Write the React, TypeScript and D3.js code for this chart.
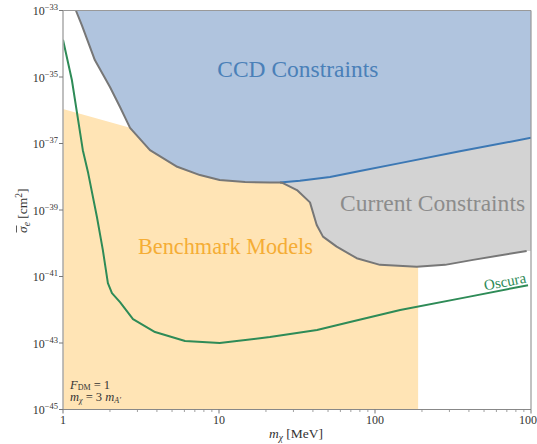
import React from 'react';
import * as d3 from 'd3';

const W = 537;
const H = 444;
const PL = 63, PR = 531, PT = 10.5, PB = 409.5;

// CCD constraint boundary (gray part, coincides with current constraints)
const ccdMass = [1.21, 1.32, 1.6, 2.0, 2.32, 2.69, 3.61, 5.4, 7.55, 10.1, 14.7, 21.2, 24.6];
const ccdLogSigma = [-33.0, -33.44, -34.49, -35.3, -35.9, -36.53, -37.2, -37.7, -37.95, -38.1, -38.16, -38.17, -38.17];
// CCD projection continuing (blue line)
const ccdProjMass = [24.6, 33.0, 51.5, 80.1, 144.6, 350, 1000];
const ccdProjLogSigma = [-38.17, -38.12, -38.01, -37.83, -37.59, -37.23, -36.83];
// Current constraints lower boundary
const curMass = [24.6, 25.7, 31.6, 38.3, 42.3, 46.4, 56.8, 76.3, 107.6, 185, 281, 425, 938];
const curLogSigma = [-38.17, -38.19, -38.4, -38.77, -39.45, -39.8, -40.1, -40.45, -40.65, -40.71, -40.65, -40.5, -40.23];
// Oscura projection
const oscMass = [1.0, 1.14, 1.34, 1.45, 1.65, 1.8, 1.94, 2.06, 2.32, 2.81, 3.89, 6.06, 10.1, 21.2, 42.5, 69.2, 145, 389, 957];
const oscLogSigma = [-33.88, -35.09, -37.2, -37.89, -39.21, -40.2, -41.2, -41.5, -41.77, -42.28, -42.67, -42.94, -43.0, -42.82, -42.61, -42.37, -42.01, -41.62, -41.26];
// Benchmark models region
const benchTopMass = [1.0, 2.69];
const benchTopLogSigma = [-35.96, -36.53];
const benchMaxMass = 189;

const xTickValues = [1, 10, 100, 1000];
const xTickLabels = ['1', '10', '100', '1000'];
const yTickExps = [-33, -35, -37, -39, -41, -43, -45];

const FONT = '"Liberation Serif", "DejaVu Serif", serif';

export default function App() {
  const x = d3.scaleLog().domain([1, 1000]).range([PL, PR]);
  const y = d3.scaleLog().domain([1e-45, 1e-33]).range([PB, PT]);
  const pt = (m: number, l: number): [number, number] => [x(m), y(Math.pow(10, l))];

  const line = d3.line<[number, number]>().x(d => d[0]).y(d => d[1]);

  const ccdPts = ccdMass.map((m, i) => pt(m, ccdLogSigma[i]));
  const projPts = ccdProjMass.map((m, i) => pt(m, ccdProjLogSigma[i]));
  const curPts = curMass.map((m, i) => pt(m, curLogSigma[i]));
  const oscPts = oscMass.map((m, i) => pt(m, oscLogSigma[i]));

  const top = -33, bot = -45;
  const benchPoly: [number, number][] = [
    pt(benchTopMass[0], bot),
    ...benchTopMass.map((m, i) => pt(m, benchTopLogSigma[i])),
    pt(benchTopMass[benchTopMass.length - 1], top),
    pt(benchMaxMass, top),
    pt(benchMaxMass, bot),
  ];
  const grayPoly: [number, number][] = [
    ...curPts,
    pt(1000, curLogSigma[curLogSigma.length - 1]),
    pt(1000, top),
    pt(curMass[0], top),
  ];
  const bluePoly: [number, number][] = [
    ...ccdPts,
    ...projPts.slice(1),
    pt(1000, top),
    pt(ccdMass[0], top),
  ];
  const grayLinePts = [...ccdPts, ...curPts.slice(1)];

  const minorX: number[] = [];
  [1, 10, 100].forEach(d => { for (let k = 2; k <= 9; k++) minorX.push(k * d); });

  const oscLabel = pt(940, -41.18);
  const ts = { fontFamily: FONT };

  return (
    <svg width={W} height={H} style={{ position: 'absolute', left: 0, top: 0, overflow: 'hidden', background: '#fff', fontFamily: FONT }}>
      <defs>
        <clipPath id="plot">
          <rect x={PL} y={PT} width={PR - PL} height={PB - PT} />
        </clipPath>
      </defs>
      <g clipPath="url(#plot)">
        <path d={line(benchPoly)! + 'Z'} fill="#ffe4b5" />
        <path d={line(grayPoly)! + 'Z'} fill="#d3d3d3" />
        <path d={line(bluePoly)! + 'Z'} fill="#b0c4de" />
        <path d={line(projPts)!} fill="none" stroke="#3c78b4" strokeWidth={2} />
        <path d={line(grayLinePts)!} fill="none" stroke="#777" strokeWidth={2} strokeLinejoin="round" />
        <path d={line(oscPts)!} fill="none" stroke="#2e8b57" strokeWidth={2} strokeLinejoin="round" />
      </g>

      {/* region labels */}
      <text style={ts} x={x(32)} y={y(Math.pow(10, -35.0))} textAnchor="middle" fontSize={23} fill="#4a80b8" textLength={161} lengthAdjust="spacingAndGlyphs">CCD Constraints</text>
      <text style={ts} x={x(234)} y={y(Math.pow(10, -39.03))} textAnchor="middle" fontSize={23} fill="#8c8c8c" textLength={185} lengthAdjust="spacingAndGlyphs">Current Constraints</text>
      <text style={ts} x={x(11.0)} y={y(Math.pow(10, -40.32))} textAnchor="middle" fontSize={23} fill="#f5ad35" textLength={175} lengthAdjust="spacingAndGlyphs">Benchmark Models</text>
      <text style={ts} x={oscLabel[0]} y={oscLabel[1]} textAnchor="end" fontSize={15} fill="#2e8b57" transform={`rotate(-11 ${oscLabel[0]} ${oscLabel[1]})`}>Oscura</text>

      {/* annotation */}
      <text style={ts} x={70} y={388.5} fontSize={12.5} fill="#333">
        <tspan fontStyle="italic">F</tspan>
        <tspan fontSize={8} dy={1.5}>DM</tspan>
        <tspan dy={-1.5}> = 1</tspan>
      </text>
      <text style={ts} x={70} y={401} fontSize={12.5} fill="#333">
        <tspan fontStyle="italic">m</tspan>
        <tspan fontSize={8} fontStyle="italic" dy={1.5}>χ</tspan>
        <tspan dy={-1.5}> = 3 </tspan>
        <tspan fontStyle="italic">m</tspan>
        <tspan fontSize={8} fontStyle="italic" dy={1.5}>A′</tspan>
      </text>

      {/* spines */}
      <line x1={PL} x2={PR} y1={PT} y2={PT} stroke="#999" strokeWidth={1.2} />
      <line x1={PR} x2={PR} y1={PT} y2={PB} stroke="#999" strokeWidth={1.2} />
      <line x1={PL} x2={PL} y1={PT} y2={PB} stroke="#aaa" strokeWidth={1.5} />
      <line x1={PL} x2={PR} y1={PB} y2={PB} stroke="#888" strokeWidth={1.2} />

      {/* x ticks */}
      {xTickValues.map((v, i) => (
        <g key={'xt' + v}>
          <line x1={x(v)} x2={x(v)} y1={PB} y2={PB + 4} stroke="#777" strokeWidth={1} />
          <text style={ts} x={x(v)} y={424} textAnchor="middle" fontSize={12} fill="#333">{xTickLabels[i]}</text>
        </g>
      ))}
      {minorX.map(v => (
        <line key={'xm' + v} x1={x(v)} x2={x(v)} y1={PB} y2={PB + 2.5} stroke="#888" strokeWidth={0.8} />
      ))}

      {/* y ticks */}
      {yTickExps.map(e => {
        const yy = y(Math.pow(10, e));
        return (
          <g key={'yt' + e}>
            <line x1={PL - 4} x2={PL} y1={yy} y2={yy} stroke="#777" strokeWidth={1} />
            <text style={ts} x={58} y={yy + 4.5} textAnchor="end" fontSize={12} fill="#333">
              10<tspan fontSize={8.5} dy={-5}>{'\u2212' + Math.abs(e)}</tspan>
            </text>
          </g>
        );
      })}

      {/* axis labels */}
      <text style={ts} x={296} y={438} textAnchor="middle" fontSize={13.5} fill="#333">
        <tspan fontStyle="italic">m</tspan>
        <tspan fontSize={9.5} fontStyle="italic" dy={3}>χ</tspan>
        <tspan dy={-3}> [MeV]</tspan>
      </text>
      <g transform="translate(27,211) rotate(-90)">
        <text style={ts} x={-22} y={0} fontSize={13.5} fill="#333">
          <tspan fontStyle="italic">σ</tspan>
          <tspan fontSize={9.5} fontStyle="italic" dy={3}>e</tspan>
          <tspan dy={-3}> [cm</tspan>
          <tspan fontSize={9.5} dy={-5}>2</tspan>
          <tspan dy={5}>]</tspan>
        </text>
        <line x1={-21.5} x2={-14.5} y1={-10.5} y2={-10.5} stroke="#333" strokeWidth={0.8} />
      </g>
    </svg>
  );
}
